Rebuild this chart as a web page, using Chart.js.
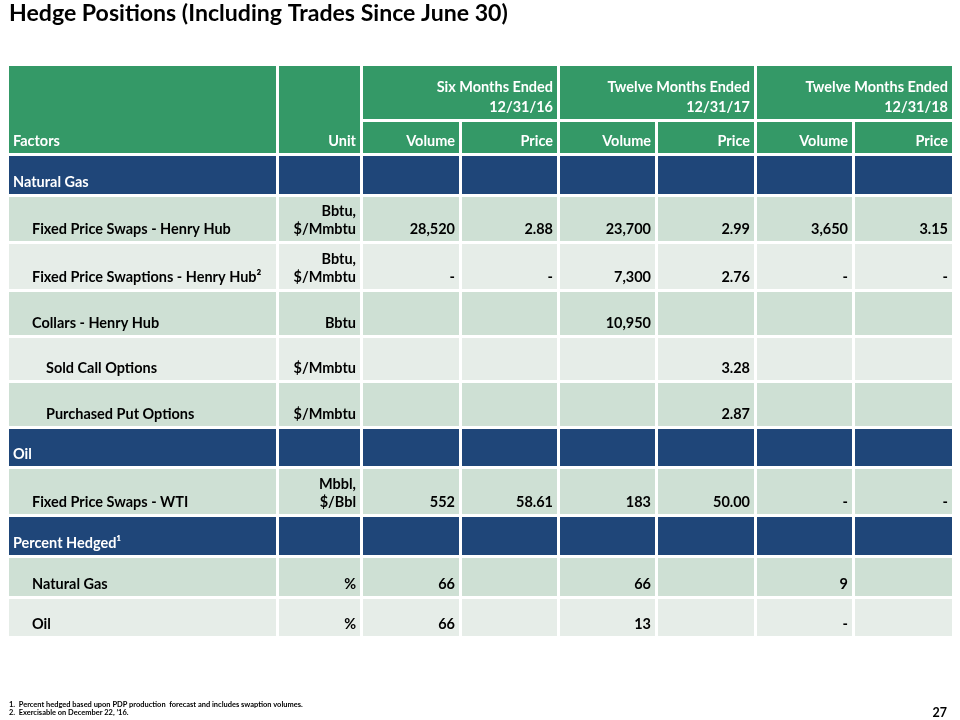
<!DOCTYPE html>
<html>
<head>
<meta charset="utf-8">
<script src="https://cdn.jsdelivr.net/npm/chart.js@4.4.1/dist/chart.umd.min.js"></script>
<style>
  html, body { margin: 0; padding: 0; background: #ffffff; }
  #wrap { position: relative; width: 960px; height: 720px; overflow: hidden; }
  canvas { display: block; }
</style>
</head>
<body>
<div id="wrap"><canvas id="c" width="960" height="720"></canvas></div>
<script>
// ---------------- DATA ----------------
const titleText = 'Hedge Positions (Including Trades Since June 30)';
const headerColumns = ['Factors', 'Unit', 'Volume', 'Price', 'Volume', 'Price', 'Volume', 'Price'];
const periodLabels = [
  ['Six Months Ended', '12/31/16'],
  ['Twelve Months Ended', '12/31/17'],
  ['Twelve Months Ended', '12/31/18']
];
const rowLabels = [
  'Natural Gas',
  'Fixed Price Swaps - Henry Hub',
  'Fixed Price Swaptions - Henry Hub\u00B2',
  'Collars - Henry Hub',
  'Sold Call Options',
  'Purchased Put Options',
  'Oil',
  'Fixed Price Swaps - WTI',
  'Percent Hedged\u00B9',
  'Natural Gas',
  'Oil'
];
const rowTypes = ['section', 'item', 'item', 'item', 'subitem', 'subitem', 'section', 'item', 'section', 'item', 'item'];
const unitLabels = [
  [], ['Bbtu,', '$/Mmbtu'], ['Bbtu,', '$/Mmbtu'], ['Bbtu'], ['$/Mmbtu'], ['$/Mmbtu'],
  [], ['Mbbl,', '$/Bbl'], [], ['%'], ['%']
];
const volume2016 = [null, 28520, '-', null, null, null, null, 552, null, 66, 66];
const price2016  = [null, 2.88, '-', null, null, null, null, 58.61, null, null, null];
const volume2017 = [null, 23700, 7300, 10950, null, null, null, 183, null, 66, 13];
const price2017  = [null, 2.99, 2.76, null, 3.28, 2.87, null, 50.00, null, null, null];
const volume2018 = [null, 3650, '-', null, null, null, null, '-', null, 9, '-'];
const price2018  = [null, 3.15, '-', null, null, null, null, '-', null, null, null];
const footnotes = [
  '1.  Percent hedged based upon PDP production  forecast and includes swaption volumes.',
  '2.  Exercisable on December 22, \u201916.'
];
const pageNumber = '27';

// ---------------- LAYOUT / STYLE ----------------
const valueColumns = [
  { data: volume2016, kind: 'volume' }, { data: price2016, kind: 'price' },
  { data: volume2017, kind: 'volume' }, { data: price2017, kind: 'price' },
  { data: volume2018, kind: 'volume' }, { data: price2018, kind: 'price' }
];
const colPitch = [270, 84, 99, 98, 98, 99, 98, 100];
const headerPitch = [56, 34];
const bodyPitch = [41, 47, 48, 46, 45, 46, 40, 48, 41, 41, 40];
const GAP = 3;
const COLORS = {
  header: '#349967',
  section: '#1F4679',
  dark: '#CEE0D4',
  light: '#E6EDE8',
  text: '#000000',
  white: '#FFFFFF'
};
const FONT = 'Lato';

function fitSize(text, target, weight) {
  const m = document.createElement('canvas').getContext('2d');
  m.font = weight + ' 100px ' + FONT;
  return 100 * target / m.measureText(text).width;
}
const bodySize = fitSize('Fixed Price Swaps - Henry Hub', 199, 'bold');
const titleSize = fitSize(titleText, 499, 'bold');
const noteSize = fitSize(footnotes[0], 294, 'bold');

function fmt(v, kind) {
  if (v === null || v === undefined) return '';
  if (typeof v === 'string') return v;
  if (kind === 'price') return v.toFixed(2);
  return v.toLocaleString('en-US', { maximumFractionDigits: 0 });
}

const totalW = colPitch.reduce((a, b) => a + b, 0);
const totalH = headerPitch.concat(bodyPitch).reduce((a, b) => a + b, 0);
const colStart = []; { let s = 0; colPitch.forEach(p => { colStart.push(s); s += p; }); }
const rowPitchAll = headerPitch.concat(bodyPitch);
const rowStart = []; { let s = 0; rowPitchAll.forEach(p => { rowStart.push(s); s += p; }); }

const tablePlugin = {
  id: 'tablePlugin',
  afterDraw(chart) {
    const ctx = chart.ctx;
    const xs = chart.scales.x, ys = chart.scales.y;
    const cell = (c0, c1, r0, r1) => {
      const x0 = xs.getPixelForValue(colStart[c0]);
      const x1 = xs.getPixelForValue(colStart[c1] + colPitch[c1]) - GAP;
      const y0 = ys.getPixelForValue(rowStart[r0]);
      const y1 = ys.getPixelForValue(rowStart[r1] + rowPitchAll[r1]) - GAP;
      return { x0, x1, y0, y1 };
    };
    const fill = (r, color) => { ctx.fillStyle = color; ctx.fillRect(r.x0, r.y0, r.x1 - r.x0, r.y1 - r.y0); };
    const text = (lines, x, yBottom, align, color, lh) => {
      ctx.fillStyle = color;
      ctx.textAlign = align;
      ctx.textBaseline = 'alphabetic';
      const n = lines.length;
      lines.forEach((ln, i) => ctx.fillText(ln, x, yBottom - (n - 1 - i) * lh));
    };
    ctx.save();
    ctx.font = 'bold ' + bodySize.toFixed(2) + 'px ' + FONT;
    const PADR = 4, BASE = 7;

    // header: Factors & Unit span 2 rows
    let r = cell(0, 0, 0, 1); fill(r, COLORS.header);
    text([headerColumns[0]], r.x0 + 4, r.y1 - BASE, 'left', COLORS.white, 18);
    r = cell(1, 1, 0, 1); fill(r, COLORS.header);
    text([headerColumns[1]], r.x1 - PADR, r.y1 - BASE, 'right', COLORS.white, 18);
    periodLabels.forEach((lbl, i) => {
      const c = 2 + i * 2;
      const g = cell(c, c + 1, 0, 0); fill(g, COLORS.header);
      text(lbl, g.x1 - PADR, g.y1 - BASE, 'right', COLORS.white, 20);
      for (let k = 0; k < 2; k++) {
        const s = cell(c + k, c + k, 1, 1); fill(s, COLORS.header);
        text([headerColumns[c + k]], s.x1 - PADR, s.y1 - BASE, 'right', COLORS.white, 18);
      }
    });

    // body
    let zebra = 0;
    rowLabels.forEach((label, i) => {
      const ri = i + 2;
      const type = rowTypes[i];
      let bg;
      if (type === 'section') { bg = COLORS.section; zebra = 0; }
      else { bg = (zebra % 2 === 0) ? COLORS.dark : COLORS.light; zebra++; }
      const tc = type === 'section' ? COLORS.white : COLORS.text;
      for (let c = 0; c < colPitch.length; c++) {
        const rc = cell(c, c, ri, ri); fill(rc, bg);
        if (c === 0) {
          const indent = type === 'section' ? 4 : (type === 'item' ? 23 : 37);
          text([label], rc.x0 + indent, rc.y1 - BASE, 'left', tc, 18);
        } else if (c === 1) {
          text(unitLabels[i], rc.x1 - PADR, rc.y1 - BASE, 'right', tc, 17.7);
        } else {
          const vc = valueColumns[c - 2];
          const s = fmt(vc.data[i], vc.kind);
          if (s) text([s], rc.x1 - PADR, rc.y1 - BASE, 'right', tc, 18);
        }
      }
    });

    // page number
    ctx.font = 'bold 12.5px ' + FONT;
    text([pageNumber], 947, 716.5, 'right', COLORS.text, 0);
    ctx.restore();
  }
};

const lh = 1.2;
new Chart(document.getElementById('c'), {
  type: 'scatter',
  data: { datasets: [{ data: [], pointRadius: 0 }] },
  options: {
    responsive: false,
    animation: false,
    devicePixelRatio: 1,
    layout: { padding: { left: 9, right: 5, top: 0, bottom: 3 } },
    scales: {
      x: { type: 'linear', min: 0, max: totalW, display: false },
      y: { type: 'linear', min: 0, max: totalH, reverse: true, display: false }
    },
    plugins: {
      legend: { display: false },
      tooltip: { enabled: false },
      title: {
        display: true,
        text: titleText,
        align: 'start',
        color: '#000000',
        font: { family: FONT, size: titleSize, weight: 'bold', lineHeight: lh },
        padding: { top: 0, bottom: 66 - titleSize * lh }
      },
      subtitle: {
        display: true,
        position: 'bottom',
        align: 'start',
        text: footnotes,
        color: '#000000',
        font: { family: FONT, size: noteSize, weight: 'bold', lineHeight: 1.15 },
        padding: { top: 720 - 3 - 639 - noteSize * 1.15 * 2, bottom: 0 }
      }
    }
  },
  plugins: [tablePlugin]
});
</script>
</body>
</html>
